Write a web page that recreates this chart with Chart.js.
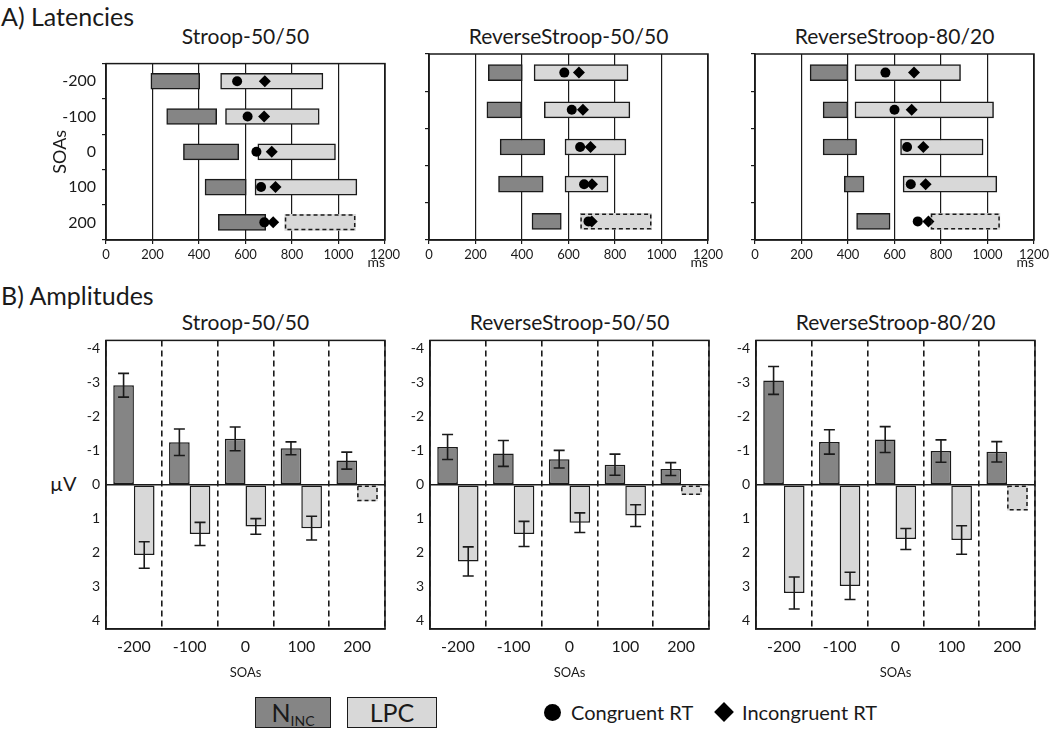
<!DOCTYPE html>
<html lang="en">
<head>
  <meta charset="UTF-8">
  <title>Latencies and Amplitudes</title>
  <script src="https://cdn.jsdelivr.net/npm/chart.js"></script>
  <style>
    body {
      margin: 0;
      background: #fff;
      font-family: Lato, sans-serif;
      color: #1a1a1a;
    }

    #page {
      position: relative;
      width: 1050px;
      height: 730px;
      overflow: hidden;
    }

    canvas {
      position: absolute;
    }

    .txt {
      position: absolute;
      line-height: 1;
      white-space: nowrap;
    }

    .section { font-size: 25px; left: 1px; }
    .ptitle { font-size: 21px; text-align: center; width: 279px; }

    .legbox {
      position: absolute;
      box-sizing: border-box;
      border: 1.5px solid #1a1a1a;
      text-align: center;
      line-height: 28px;
      font-size: 25px;
    }
    .legbox sub { font-size: 14px; vertical-align: -4px; }

    .dot {
      position: absolute;
      width: 17px;
      height: 17px;
      border-radius: 50%;
      background: #000;
    }
    .diamond {
      position: absolute;
      width: 14px;
      height: 14px;
      background: #000;
      transform: rotate(45deg);
    }
    .legtxt { font-size: 20px; }
  </style>
</head>
<body>
<div id="page">
  <div class="txt section" style="top:4px">A) Latencies</div>
  <div class="txt section" style="top:283px">B) Amplitudes</div>

  <div class="txt ptitle" style="left:106px;top:25px">Stroop-50/50</div>
  <div class="txt ptitle" style="left:429px;top:25px">ReverseStroop-50/50</div>
  <div class="txt ptitle" style="left:755px;top:25px">ReverseStroop-80/20</div>

  <div class="txt ptitle" style="left:106px;top:311px">Stroop-50/50</div>
  <div class="txt ptitle" style="left:430px;top:311px">ReverseStroop-50/50</div>
  <div class="txt ptitle" style="left:756px;top:311px">ReverseStroop-80/20</div>

  <div class="txt" style="left:50px;top:473px;font-size:20px">µV</div>

  <canvas id="lat1" width="364" height="232" style="left:46px;top:48px"></canvas>
  <canvas id="lat2" width="364" height="232" style="left:369px;top:48px"></canvas>
  <canvas id="lat3" width="364" height="232" style="left:695px;top:48px"></canvas>

  <canvas id="amp1" width="349" height="359" style="left:46px;top:326px"></canvas>
  <canvas id="amp2" width="349" height="359" style="left:370px;top:326px"></canvas>
  <canvas id="amp3" width="349" height="359" style="left:696px;top:326px"></canvas>

  <div class="legbox" style="left:255px;top:697px;width:76px;height:31px;background:#858585">N<sub>INC</sub></div>
  <div class="legbox" style="left:347px;top:697px;width:90px;height:31px;background:#d8d8d8">LPC</div>
  <div class="dot" style="left:544px;top:704px"></div>
  <div class="txt legtxt" style="left:571px;top:702px">Congruent RT</div>
  <div class="diamond" style="left:717px;top:705px"></div>
  <div class="txt legtxt" style="left:742px;top:702px">Incongruent RT</div>
</div>

<script>
  // ---- data ----
  const soaLabels = ['-200', '-100', '0', '100', '200'];
  const ampTicks = [-4, -3, -2, -1, 0, 1, 2, 3, 4];

  // A) latencies (ms): [start, end] of each component window, RTs as points
  const stroopN = [[193, 403], [261, 476], [333, 571], [426, 603], [483, 687]];
  const stroopLPC = [[493, 933], [514, 917], [653, 987], [641, 1079], [769, 1073]];
  const stroopCongRT = [564, 609, 647, 667, 681];
  const stroopIncongRT = [683, 680, 713, 729, 719];

  const rev50N = [[255, 401], [249, 398], [306, 498], [299, 491], [443, 569]];
  const rev50LPC = [[452, 856], [496, 864], [585, 847], [585, 770], [651, 957]];
  const rev50CongRT = [582, 614, 650, 667, 686];
  const rev50IncongRT = [645, 662, 695, 701, 700];

  const rev80N = [[237, 399], [293, 399], [293, 437], [384, 469], [437, 581]];
  const rev80LPC = [[430, 884], [430, 1026], [626, 981], [637, 1040], [756, 1053]];
  const rev80CongRT = [561, 600, 654, 670, 700];
  const rev80IncongRT = [684, 674, 724, 734, 746];

  // B) amplitudes (µV) with error bar half-widths
  const stroopNAmp = [-2.93, -1.25, -1.35, -1.07, -0.71];
  const stroopNErr = [0.35, 0.39, 0.35, 0.19, 0.25];
  const stroopLPCAmp = [2.07, 1.45, 1.23, 1.28, 0.49];
  const stroopLPCErr = [0.39, 0.34, 0.23, 0.35, null];

  const rev50NAmp = [-1.11, -0.92, -0.75, -0.59, -0.46];
  const rev50NErr = [0.37, 0.38, 0.26, 0.31, 0.19];
  const rev50LPCAmp = [2.26, 1.45, 1.12, 0.91, 0.30];
  const rev50LPCErr = [0.43, 0.37, 0.29, 0.32, null];

  const rev80NAmp = [-3.07, -1.26, -1.33, -0.99, -0.97];
  const rev80NErr = [0.41, 0.36, 0.38, 0.33, 0.30];
  const rev80LPCAmp = [3.19, 2.98, 1.60, 1.63, 0.76];
  const rev80LPCErr = [0.47, 0.40, 0.31, 0.42, null];

  // the 200 ms LPC is drawn with a dashed outline
  const DASHED_ROW = 4;

  const DARK = '#858585';
  const LIGHT = '#d8d8d8';
  const INK = '#1a1a1a';

  Chart.defaults.font.family = 'Lato, sans-serif';
  Chart.defaults.color = INK;
  Chart.defaults.animation = false;

  // box around the plot area
  const framePlugin = {
    id: 'frame',
    afterDraw(chart) {
      const { ctx, chartArea: a } = chart;
      ctx.save();
      ctx.strokeStyle = INK;
      ctx.lineWidth = 1.5;
      ctx.strokeRect(a.left, a.top, a.right - a.left, a.bottom - a.top);
      ctx.restore();
    }
  };

  // dashed outline for bars flagged with dashedIndex
  const dashedPlugin = {
    id: 'dashedBar',
    afterDatasetsDraw(chart) {
      const ctx = chart.ctx;
      chart.data.datasets.forEach((ds, i) => {
        if (ds.dashedIndex == null) return;
        const el = chart.getDatasetMeta(i).data[ds.dashedIndex];
        if (!el) return;
        const p = el.getProps(['x', 'y', 'base', 'width', 'height', 'horizontal']);
        let l, r, t, b;
        if (p.horizontal) {
          l = Math.min(p.x, p.base); r = Math.max(p.x, p.base);
          t = p.y - p.height / 2; b = p.y + p.height / 2;
        } else {
          l = p.x - p.width / 2; r = p.x + p.width / 2;
          t = Math.min(p.y, p.base); b = Math.max(p.y, p.base);
        }
        ctx.save();
        ctx.strokeStyle = INK;
        ctx.lineWidth = 1.5;
        ctx.setLineDash([4, 3]);
        ctx.strokeRect(l + 0.75, t + 0.75, r - l - 1.5, b - t - 1.5);
        ctx.restore();
      });
    }
  };

  // error bars from dataset.errors
  const errorBarPlugin = {
    id: 'errorBars',
    afterDatasetsDraw(chart) {
      const ctx = chart.ctx;
      chart.data.datasets.forEach((ds, i) => {
        if (!ds.errors) return;
        const meta = chart.getDatasetMeta(i);
        const yScale = chart.scales[meta.yAxisID];
        meta.data.forEach((el, j) => {
          const e = ds.errors[j];
          if (e == null) return;
          const v = ds.data[j];
          const y1 = yScale.getPixelForValue(v - e);
          const y2 = yScale.getPixelForValue(v + e);
          ctx.save();
          ctx.strokeStyle = INK;
          ctx.lineWidth = 1.6;
          ctx.beginPath();
          ctx.moveTo(el.x, y1); ctx.lineTo(el.x, y2);
          ctx.moveTo(el.x - 5.5, y1); ctx.lineTo(el.x + 5.5, y1);
          ctx.moveTo(el.x - 5.5, y2); ctx.lineTo(el.x + 5.5, y2);
          ctx.stroke();
          ctx.restore();
        });
      });
    }
  };

  Chart.register(framePlugin, dashedPlugin, errorBarPlugin);

  const lpcBorder = ctx => ctx.dataIndex === DASHED_ROW ? 0 : 1.5;

  function latencyChart(id, nData, lpcData, cong, incong, first) {
    new Chart(document.getElementById(id), {
      type: 'bar',
      data: {
        labels: soaLabels,
        datasets: [
          {
            label: 'N_INC', data: nData, grouped: false, order: 1,
            backgroundColor: DARK, borderColor: INK, borderWidth: 1.5,
            borderSkipped: false, barThickness: 16
          },
          {
            label: 'LPC', data: lpcData, grouped: false, order: 1,
            backgroundColor: LIGHT, borderColor: INK, borderWidth: lpcBorder,
            borderSkipped: false, barThickness: 16, dashedIndex: DASHED_ROW
          },
          {
            type: 'line', label: 'Congruent RT', order: 0, indexAxis: 'y',
            data: cong.map((v, i) => ({ x: v, y: soaLabels[i] })),
            showLine: false, pointStyle: 'circle', pointRadius: 5,
            backgroundColor: '#000', borderColor: '#000', borderWidth: 0
          },
          {
            type: 'line', label: 'Incongruent RT', order: 0, indexAxis: 'y',
            data: incong.map((v, i) => ({ x: v, y: soaLabels[i] })),
            showLine: false, pointStyle: 'rectRot', pointRadius: 6,
            backgroundColor: '#000', borderColor: '#000', borderWidth: 0
          }
        ]
      },
      options: {
        indexAxis: 'y',
        responsive: false,
        layout: { padding: { top: 4, right: 25, left: 0, bottom: 0 } },
        plugins: { legend: { display: false }, tooltip: { enabled: false } },
        scales: {
          x: {
            type: 'linear', min: 0, max: 1200,
            ticks: { stepSize: 200, font: { size: 13 }, padding: 3, color: INK, callback: v => String(v) },
            grid: { color: INK, lineWidth: 1.2, drawTicks: true, tickLength: 4 },
            border: { color: INK, width: 1.5 },
            title: { display: true, text: 'ms', align: 'end', font: { size: 14 }, padding: { top: 0, bottom: 9 } },
            afterFit: s => { s.height = 40; }
          },
          y: {
            type: 'category',
            offset: true,
            ticks: { display: first, font: { size: 16 }, padding: 6, color: INK },
            grid: { offset: true, drawOnChartArea: false, drawTicks: true, tickLength: 4, color: INK, lineWidth: 1.2 },
            border: { color: INK, width: 1.5 },
            title: { display: first, text: 'SOAs', font: { size: 18 }, padding: { top: 3, bottom: 0 } },
            afterFit: s => { s.width = 60; }
          }
        }
      }
    });
  }

  function amplitudeChart(id, nAmp, nErr, lpcAmp, lpcErr) {
    new Chart(document.getElementById(id), {
      type: 'bar',
      data: {
        labels: soaLabels,
        datasets: [
          {
            label: 'N_INC', data: nAmp, errors: nErr,
            backgroundColor: DARK, borderColor: INK, borderWidth: 1.5, borderSkipped: false
          },
          {
            label: 'LPC', data: lpcAmp, errors: lpcErr, dashedIndex: DASHED_ROW,
            backgroundColor: LIGHT, borderColor: INK, borderWidth: lpcBorder, borderSkipped: false
          }
        ]
      },
      options: {
        responsive: false,
        categoryPercentage: 0.74,
        barPercentage: 1.0,
        layout: { padding: { top: 14, right: 10, left: 0, bottom: 0 } },
        plugins: { legend: { display: false }, tooltip: { enabled: false } },
        scales: {
          x: {
            offset: true,
            ticks: { font: { size: 16 }, padding: 8, color: INK },
            grid: { offset: true, color: INK, lineWidth: 1.6, drawTicks: false },
            border: { color: INK, width: 1.5, dash: [6, 4] },
            title: { display: true, text: 'SOAs', font: { size: 13 }, padding: { top: 0, bottom: 4 } },
            afterFit: s => { s.height = 56; }
          },
          y: {
            min: -4.25, max: 4.25, reverse: true,
            afterBuildTicks: s => { s.ticks = ampTicks.map(v => ({ value: v })); },
            ticks: { font: { size: 14 }, padding: 6, color: INK },
            grid: {
              drawTicks: false, lineWidth: 1.5,
              color: ctx => (ctx.tick && ctx.tick.value === 0) ? INK : 'rgba(0,0,0,0)'
            },
            border: { color: INK, width: 1.5 },
            afterFit: s => { s.width = 60; }
          }
        }
      }
    });
  }

  latencyChart('lat1', stroopN, stroopLPC, stroopCongRT, stroopIncongRT, true);
  latencyChart('lat2', rev50N, rev50LPC, rev50CongRT, rev50IncongRT, false);
  latencyChart('lat3', rev80N, rev80LPC, rev80CongRT, rev80IncongRT, false);

  amplitudeChart('amp1', stroopNAmp, stroopNErr, stroopLPCAmp, stroopLPCErr);
  amplitudeChart('amp2', rev50NAmp, rev50NErr, rev50LPCAmp, rev50LPCErr);
  amplitudeChart('amp3', rev80NAmp, rev80NErr, rev80LPCAmp, rev80LPCErr);
</script>
</body>
</html>
